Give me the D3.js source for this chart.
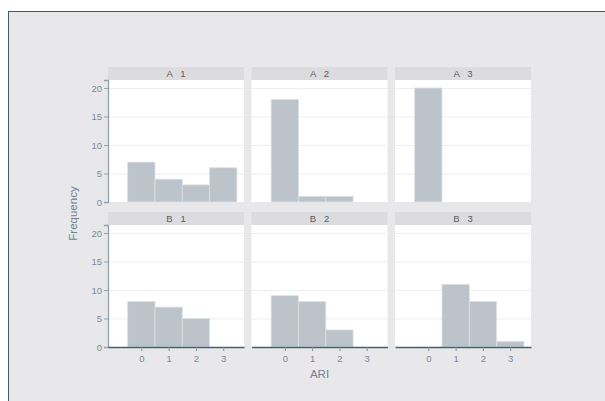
<!DOCTYPE html>
<html>
<head>
<script src="https://d3js.org/d3.v7.min.js"></script>
<style>
  body { margin: 0; background: #fff; }
  text { font-family: "Liberation Sans", Arial, sans-serif; }
</style>
</head>
<body>
<div id="chart"></div>
<script>
// ARI categories and panel labels
const categories = [0, 1, 2, 3];
const rowLabels = ["A", "B"];
const colLabels = ["1", "2", "3"];
const yTicks = [0, 5, 10, 15, 20];

// frequencies per panel
const a1 = [7, 4, 3, 6];
const a2 = [18, 1, 1, 0];
const a3 = [20, 0, 0, 0];
const b1 = [8, 7, 5, 0];
const b2 = [9, 8, 3, 0];
const b3 = [0, 11, 8, 1];
const panelValues = [[a1, a2, a3], [b1, b2, b3]];

const width = 605, height = 401;
const svg = d3.select("#chart").append("svg")
  .attr("width", width).attr("height", height);

// graph region frame
svg.append("rect")
  .attr("x", 8.5).attr("y", 11.5)
  .attr("width", 700).attr("height", 500)
  .attr("fill", "#e8e8ea")
  .attr("stroke", "#3b5b6c").attr("stroke-width", 1);

const panelW = 136, gapX = 7.5, left0 = 108;
const stripH = 13, plotH = 122;
const rowTop = [67, 212];

const x = d3.scaleLinear().domain([-1.22, 3.76]).range([0, panelW]);
const y = d3.scaleLinear().domain([0, 21.4]).range([plotH, 0]);
const barW = x(0.5) - x(-0.5);

rowLabels.forEach((r, ri) => {
  colLabels.forEach((c, ci) => {
    const vals = panelValues[ri][ci];
    const g = svg.append("g")
      .attr("transform", `translate(${left0 + ci * (panelW + gapX)}, ${rowTop[ri]})`);

    // strip
    g.append("rect").attr("width", panelW).attr("height", stripH)
      .attr("fill", "#dcdcdf");
    g.append("text")
      .attr("x", panelW / 2).attr("y", stripH / 2 + 3.5)
      .attr("text-anchor", "middle")
      .attr("font-size", 9.5).attr("fill", "#5a5a5a")
      .attr("xml:space", "preserve")
      .text(r + "   " + c);

    const p = g.append("g").attr("transform", `translate(0, ${stripH})`);
    p.append("rect").attr("width", panelW).attr("height", plotH).attr("fill", "#fff");

    // gridlines
    p.selectAll(".grid").data(yTicks.slice(1)).enter().append("line")
      .attr("x1", 0).attr("x2", panelW)
      .attr("y1", d => y(d) + 0.5).attr("y2", d => y(d) + 0.5)
      .attr("stroke", "#eeeeee").attr("stroke-width", 1.2);

    // bars
    p.selectAll(".bar").data(categories.map((k, i) => ({ k, v: vals[i] })).filter(d => d.v > 0))
      .enter().append("rect")
      .attr("x", d => x(d.k - 0.5))
      .attr("y", d => y(d.v))
      .attr("width", barW)
      .attr("height", d => y(0) - y(d.v))
      .attr("fill", "#bcc3cb")
      .attr("stroke", "#dde1e5").attr("stroke-width", 0.8);

    // y axis on left column
    if (ci === 0) {
      const ya = p.append("g").call(d3.axisLeft(y).tickValues(yTicks).tickFormat(d3.format("d"))
        .tickSize(4).tickPadding(2));
      ya.select(".domain").attr("stroke", "#8fa2b2").attr("stroke-width", 1.3);
      ya.selectAll(".tick line").attr("stroke", "#8fa2b2");
      ya.selectAll(".tick text").attr("fill", "#7b8994").attr("font-size", 9.5)
        .attr("font-family", "Liberation Sans, Arial, sans-serif");
    }

    // x axis on bottom row
    if (ri === 1) {
      const xa = p.append("g").attr("transform", `translate(0, ${plotH})`)
        .call(d3.axisBottom(x).tickValues(categories).tickFormat(d3.format("d"))
          .tickSize(4).tickPadding(4).tickSizeOuter(0));
      xa.select(".domain").attr("stroke", "#3f6172").attr("stroke-width", 1.3);
      xa.selectAll(".tick line").attr("stroke", "#7f94a3");
      xa.selectAll(".tick text").attr("fill", "#7b8994").attr("font-size", 9.5)
        .attr("font-family", "Liberation Sans, Arial, sans-serif");
    }
  });
});

// axis titles
const midX = left0 + 1 * (panelW + gapX) + panelW / 2;
svg.append("text")
  .attr("x", midX).attr("y", 378)
  .attr("text-anchor", "middle")
  .attr("font-size", 11.5).attr("fill", "#6f8291")
  .text("ARI");

const midY = (rowTop[0] + stripH + rowTop[1] + stripH + plotH) / 2;
svg.append("text")
  .attr("transform", `translate(77, ${midY}) rotate(-90)`)
  .attr("text-anchor", "middle")
  .attr("font-size", 11.5).attr("fill", "#6f8291")
  .text("Frequency");
</script>
</body>
</html>
